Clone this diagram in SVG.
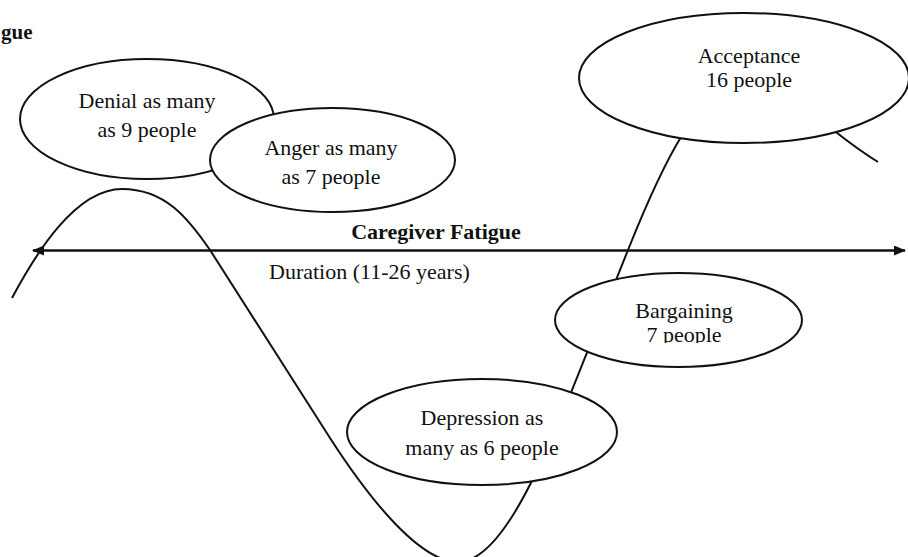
<svg xmlns="http://www.w3.org/2000/svg" width="908" height="557" viewBox="0 0 908 557">
<style>
.bg{fill:#ffffff}
.node ellipse{fill:#ffffff;stroke:#111111;stroke-width:2}
.lbl{font-family:"Liberation Serif","Times New Roman",serif;font-size:22px;fill:#111111;text-anchor:middle}
.bold{font-family:"Liberation Serif","Times New Roman",serif;font-size:22px;font-weight:bold;fill:#111111}
.curve{fill:none;stroke:#111111;stroke-width:2}
.axis{fill:none;stroke:#111111;stroke-width:2.4}
</style>
<defs>
<marker id="ah" viewBox="0 0 12 10" refX="11" refY="5" markerWidth="12" markerHeight="10" markerUnits="userSpaceOnUse" orient="auto-start-reverse">
<path d="M0,0 L12,5 L0,10 Z" fill="#111111"/>
</marker>
<clipPath id="clipB"><rect x="550" y="320" width="260" height="23"/></clipPath>
</defs>
<rect class="bg" x="0" y="0" width="908" height="557"/>
<text class="bold" x="1" y="39" style="font-size:21px">gue</text>
<g id="connectors">
<path class="curve" d="M 12 298 C 35 255, 75 189, 122 189 C 165 189, 188 218, 210 250 L 330 438 C 370 500, 420 562, 458 562 C 495 562, 530 490, 560 420 L 628 250 C 660 170, 700 80, 750 80 C 790 80, 810 120, 878 162"/>
<path class="axis" d="M 33 250.5 L 905 250.5" marker-start="url(#ah)" marker-end="url(#ah)"/>
</g>
<g id="axis-labels">
<text class="bold" x="436" y="239" text-anchor="middle">Caregiver Fatigue</text>
<text class="lbl" x="269" y="279" style="text-anchor:start">Duration (11-26 years)</text>
</g>
<g id="denial" class="node">
<ellipse cx="147" cy="119" rx="127" ry="60"/>
<text class="lbl" x="147" y="108">Denial as many</text>
<text class="lbl" x="147" y="137">as 9 people</text>
</g>
<g id="anger" class="node">
<ellipse cx="332.5" cy="160" rx="122.5" ry="52"/>
<text class="lbl" x="331" y="155">Anger as many</text>
<text class="lbl" x="331" y="184">as 7 people</text>
</g>
<g id="acceptance" class="node">
<ellipse cx="744" cy="78" rx="165" ry="65"/>
<text class="lbl" x="749" y="63">Acceptance</text>
<text class="lbl" x="749" y="87">16 people</text>
</g>
<g id="bargaining" class="node">
<ellipse cx="678.5" cy="320" rx="123.5" ry="47"/>
<text class="lbl" x="684" y="318">Bargaining</text>
<text class="lbl" x="684" y="342" clip-path="url(#clipB)">7 people</text>
</g>
<g id="depression" class="node">
<ellipse cx="482" cy="432" rx="135" ry="53"/>
<text class="lbl" x="482" y="425">Depression as</text>
<text class="lbl" x="482" y="455">many as 6 people</text>
</g>
</svg>
